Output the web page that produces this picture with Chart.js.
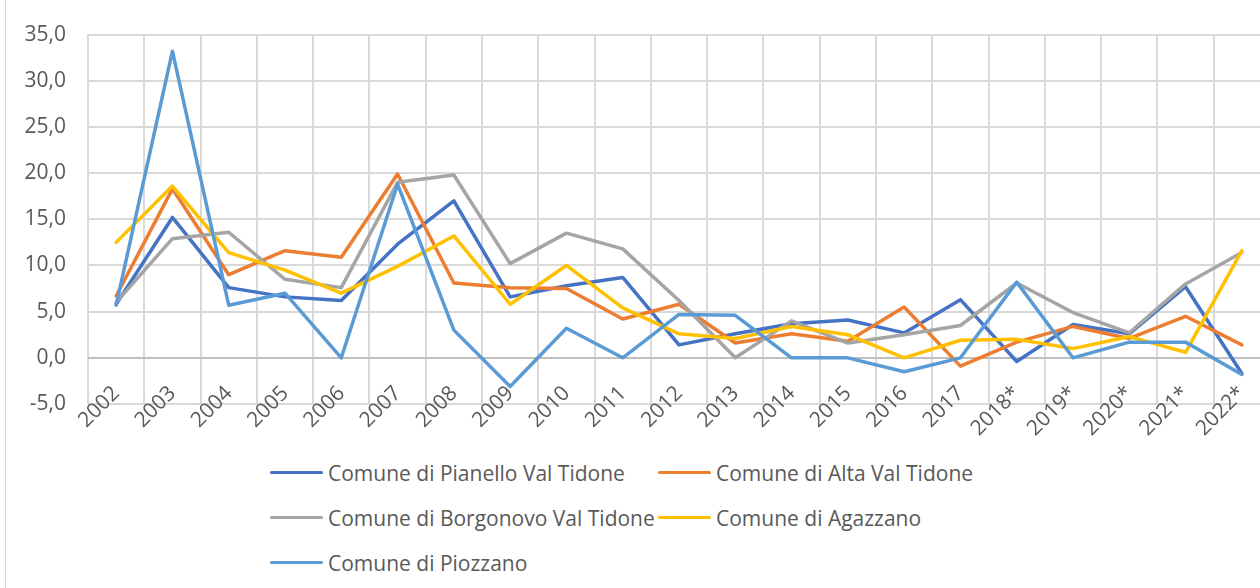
<!DOCTYPE html>
<html>
<head>
<meta charset="utf-8">
<script src="https://cdn.jsdelivr.net/npm/chart.js@4/dist/chart.umd.min.js"></script>
<style>
  body { margin: 0; background: #fff; width: 1260px; height: 588px; overflow: hidden; position: relative; font-family: 'Open Sans', sans-serif; }
  #frame { position: absolute; left: 5px; top: 0; bottom: 0; width: 1px; background: #d4d4d4; }
  #wrap { position: absolute; left: 0; top: 0; width: 1300px; height: 440px; }
  #legend { position: absolute; left: 270px; top: 450px; display: grid; grid-template-columns: 388px auto; grid-auto-rows: 45px; }
  .item { display: flex; align-items: center; font-size: 21px; color: #595959; white-space: nowrap; }
  .swatch { width: 53px; height: 3.5px; margin-right: 5px; border-radius: 2px; }
</style>
</head>
<body>
<div id="frame"></div>
<div id="wrap"><canvas id="chart" width="1300" height="440"></canvas></div>
<div id="legend"></div>
<script>
const anni = ['2002', '2003', '2004', '2005', '2006', '2007', '2008', '2009', '2010', '2011', '2012',
              '2013', '2014', '2015', '2016', '2017', '2018*', '2019*', '2020*', '2021*', '2022*'];

const pianello  = [5.8, 15.2, 7.6, 6.6, 6.2, 12.3, 17.0, 6.6, 7.8, 8.7, 1.4, 2.6, 3.7, 4.1, 2.7, 6.3, -0.4, 3.6, 2.6, 7.7, -1.7];
const altaVal   = [6.7, 18.3, 9.0, 11.6, 10.9, 19.9, 8.1, 7.6, 7.5, 4.2, 5.8, 1.6, 2.6, 1.8, 5.5, -0.9, 1.7, 3.4, 2.1, 4.5, 1.4];
const borgonovo = [6.0, 12.9, 13.6, 8.5, 7.6, 19.0, 19.8, 10.2, 13.5, 11.8, 6.2, 0.0, 4.0, 1.6, 2.5, 3.5, 8.1, 4.9, 2.7, 8.0, 11.4];
const agazzano  = [12.5, 18.6, 11.4, 9.5, 7.0, 9.9, 13.2, 5.8, 10.0, 5.4, 2.6, 2.1, 3.4, 2.5, 0.0, 1.9, 2.0, 1.0, 2.3, 0.6, 11.6];
const piozzano  = [5.7, 33.2, 5.7, 7.0, 0.0, 18.8, 3.0, -3.1, 3.2, 0.0, 4.7, 4.6, 0.0, 0.0, -1.5, 0.0, 8.2, 0.0, 1.7, 1.7, -1.8];

const nomi = ['Comune di Pianello Val Tidone', 'Comune di Alta Val Tidone', 'Comune di Borgonovo Val Tidone',
              'Comune di Agazzano', 'Comune di Piozzano'];
const serie = [pianello, altaVal, borgonovo, agazzano, piozzano];
const colori = ['#4472C4', '#ED7D31', '#A5A5A5', '#FFC000', '#5B9BD5'];

const tickFont = { family: 'Open Sans', size: 21 };

new Chart(document.getElementById('chart'), {
    type: 'line',
    data: {
        labels: anni,
        datasets: serie.map((d, i) => ({
            label: nomi[i],
            data: d,
            borderColor: colori[i],
            backgroundColor: colori[i],
            borderWidth: 3.5,
            tension: 0,
            pointRadius: 0,
            borderJoinStyle: 'round',
            borderCapStyle: 'round',
            order: serie.length - i  // ultima serie sopra, come in Excel
        }))
    },
    options: {
        responsive: false,
        animation: false,
        layout: { padding: { left: 0, right: 30, top: 24, bottom: 0 } },
        plugins: { legend: { display: false }, tooltip: { enabled: false } },
        scales: {
            x: {
                offset: true,
                grid: { offset: true, color: '#d9d9d9', lineWidth: 2, drawTicks: false },
                border: { display: false },
                // mirror evita il clip: le etichette salgono sopra la linea -5 come nell'originale
                ticks: { autoSkip: false, minRotation: 45, maxRotation: 45, mirror: true, padding: 5, labelOffset: 18,
                         color: '#595959', font: tickFont },
                afterFit: s => { s.height = 36; }
            },
            y: {
                min: -5,
                max: 35,
                grid: { color: c => c.tick && c.tick.value === 0 ? '#bfbfbf' : '#d9d9d9', lineWidth: 2, drawTicks: false },
                border: { display: false },
                ticks: { stepSize: 5, padding: 22, color: '#595959', font: tickFont,
                         callback: v => v.toFixed(1).replace('.', ',') },
                afterFit: s => { s.width = 88; }
            }
        }
    }
});

// legenda in html, due colonne come nell'originale
const leg = document.getElementById('legend');
nomi.forEach((n, i) => {
    const it = document.createElement('div');
    it.className = 'item';
    it.innerHTML = `<span class="swatch" style="background:${colori[i]}"></span>${n}`;
    leg.appendChild(it);
});
</script>
</body>
</html>
